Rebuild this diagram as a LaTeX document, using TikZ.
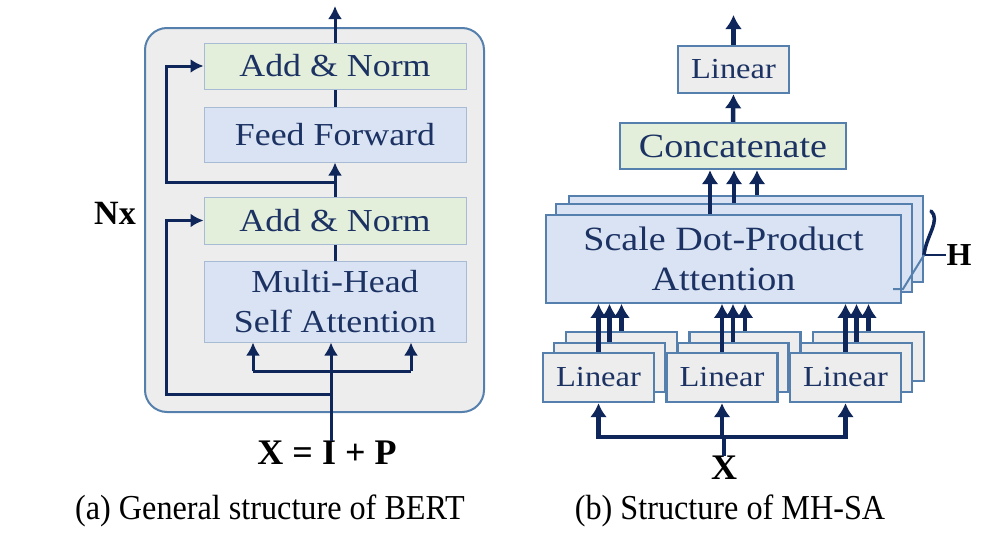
\documentclass[tikz,border=0pt]{standalone}
\usepackage{fontspec}
\setmainfont{Liberation Serif}
\newfontfamily\boxfont[FakeStretch=1.12]{Liberation Serif}
\newfontfamily\capfont[FakeStretch=0.92]{Liberation Serif}
\usetikzlibrary{arrows.meta,calc}
\definecolor{navy}{HTML}{0F265A}
\definecolor{txt}{HTML}{1B3263}
\definecolor{bluefill}{HTML}{DAE3F3}
\definecolor{greenfill}{HTML}{E3EFDA}
\definecolor{grayfill}{HTML}{EDEDED}
\definecolor{edgeblue}{HTML}{5580AE}
\definecolor{lightedge}{HTML}{A7BCD4}
\begin{document}
\begin{tikzpicture}[x=1pt,y=-1pt,
  lbox/.style={draw=lightedge, line width=1pt, minimum width=262pt, inner sep=0pt, text=txt, font=\boxfont\fontsize{32}{40}\selectfont, align=center},
  rbox/.style={draw=edgeblue, line width=2.4pt, inner sep=0pt, text=txt, align=center},
  arrL/.style={draw=navy, line width=3pt, -{Latex[length=13pt,width=14pt]}},
  lnL/.style={draw=navy, line width=3pt},
  arrR/.style={draw=navy, line width=4.5pt, -{Latex[length=14pt,width=17pt]}},
  lnR/.style={draw=navy, line width=4.5pt},
  boldlab/.style={font=\bfseries\fontsize{36}{36}\selectfont, text=black, inner sep=0pt},
  capstyle/.style={font=\capfont\fontsize{35}{35}\selectfont, text=black, inner sep=0pt}
]
\useasboundingbox (0,0) rectangle (1002,541);
\fill[white] (0,0) rectangle (1002,541);

% ---------- left panel ----------
\node[draw=edgeblue, line width=2pt, fill=grayfill, rounded corners=22pt, minimum width=339pt, minimum height=384pt] (outer) at (314.5,220) {};
\node[lbox, fill=greenfill, minimum height=46pt] (an2) at (335,66) {Add \& Norm};
\node[lbox, fill=bluefill, minimum height=55pt] (ff) at (335,134.5) {Feed Forward};
\node[lbox, fill=greenfill, minimum height=47pt] (an1) at (335,220.5) {Add \& Norm};
\node[lbox, fill=bluefill, minimum height=81pt] (mh) at (335,301.5) {Multi-Head\\Self Attention};

\coordinate (outtop) at (335,6);
\draw[arrL] (an2.north) -- (outtop);
\draw[lnL] (ff.north) -- (an2.south);
\draw[arrL] (an1.north) -- (ff.south);
\coordinate (j2) at (335,182);
\coordinate (r2) at (166,182);
\draw[arrL] (j2) -- (r2) |- (an2.west);
\draw[lnL] (mh.north) -- (an1.south);

\node[boldlab] (xip) at (327,453) {X = I + P};
\coordinate (j1) at (331,394);
\coordinate (r1) at (166,394);
\coordinate (br) at (331,371);
\coordinate (brL) at (253,371);
\coordinate (brR) at (411,371);
\draw[lnL] (xip.north -| br) -- (br);
\draw[arrL] (br) -- (br |- mh.south);
\draw[lnL] (brL) -- (brR);
\draw[arrL] (brL) -- (brL |- mh.south);
\draw[arrL] (brR) -- (brR |- mh.south);
\draw[arrL] (j1) -- (r1) |- (an1.west);

\node[boldlab, font=\bfseries\fontsize{34}{34}\selectfont] (nx) at (115,213) {Nx};

% ---------- right panel ----------
\node[rbox, fill=grayfill, minimum width=111pt, minimum height=47pt, font=\boxfont\fontsize{29}{29}\selectfont] (lin) at (733.5,69.5) {Linear};
\node[rbox, fill=greenfill, minimum width=226pt, minimum height=46pt, font=\boxfont\fontsize{34}{34}\selectfont] (cat) at (733,146) {Concatenate};

\node[rbox, fill=bluefill, line width=1.8pt, minimum width=354pt, minimum height=86pt] (sdC) at (746,239) {};
\node[rbox, fill=bluefill, line width=1.8pt, minimum width=356pt, minimum height=88pt] (sdB) at (734,248) {};
\node[rbox, fill=bluefill, line width=1.8pt, minimum width=355pt, minimum height=88pt, font=\boxfont\fontsize{34}{40}\selectfont] (sdA) at (723.5,259) {Scale Dot-Product\\Attention};

\draw[arrR] ([xshift=-13.5pt]sdA.north) -- ([xshift=-13.5pt]sdA.north |- cat.south);
\draw[arrR] (sdB.north) -- (sdB.north |- cat.south);
\draw[arrR] ([xshift=11pt]sdC.north) -- ([xshift=11pt]sdC.north |- cat.south);
\draw[arrR] (cat.north) -- (lin.south);
\coordinate (routtop) at (733.5,15);
\draw[arrR] (lin.north) -- (routtop);

\foreach \i/\cx in {1/598.5, 2/722, 3/845.5}{
  \node[rbox, fill=grayfill, minimum width=111pt, minimum height=49pt] (lc\i) at (\cx+23,356.5) {};
  \node[rbox, fill=grayfill, minimum width=111pt, minimum height=49pt] (lb\i) at (\cx+11,367.5) {};
  \node[rbox, fill=grayfill, minimum width=111pt, minimum height=49pt, font=\boxfont\fontsize{29}{29}\selectfont] (la\i) at (\cx,377.5) {Linear};
  \draw[arrR] (la\i.north) -- (la\i.north |- sdA.south);
  \draw[arrR] (lb\i.north) -- (lb\i.north |- sdA.south);
  \draw[arrR] (lc\i.north) -- (lc\i.north |- sdA.south);
}

\node[boldlab] (xb) at (724,468) {X};
\coordinate (jx) at (724,437);
\draw[lnR] (xb.north) -- (jx);
\draw[lnR, line cap=rect] (la1.south |- jx) -- (la3.south |- jx);
\draw[arrR] (la1.south |- jx) -- (la1.south);
\draw[arrR] (la2.south |- jx) -- (la2.south);
\draw[arrR] (la3.south |- jx) -- (la3.south);

\node[boldlab, font=\bfseries\fontsize{32}{32}\selectfont] (hh) at (959,255) {H};
\draw[navy, line width=3.5pt, line cap=round] (931,211) .. controls (941,220) and (926,236) .. (924,255);
\draw[navy, line width=2.5pt] (924,255) -- (hh.west);
\draw[edgeblue, line width=2pt] (893,289) -- (903,289) -- (924,255);

% ---------- captions ----------
\node[capstyle] (capa) at (270,511) {(a) General structure of BERT};
\node[capstyle] (capb) at (730,511) {(b) Structure of MH-SA};
\end{tikzpicture}
\end{document}
